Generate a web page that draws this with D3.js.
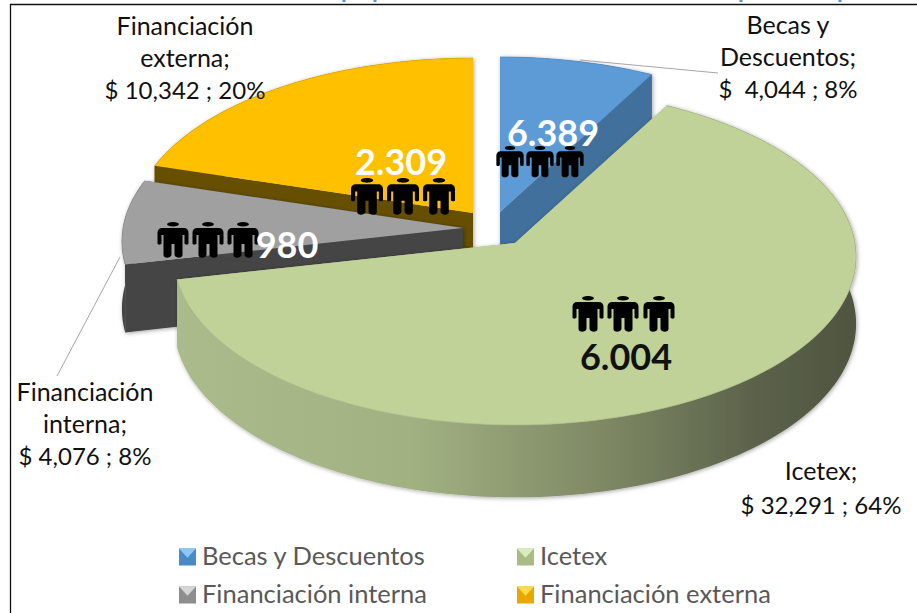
<!DOCTYPE html>
<html><head><meta charset="utf-8">
<script src="https://cdn.jsdelivr.net/npm/d3@7/dist/d3.min.js"></script>
<style>html,body{margin:0;padding:0;background:#fff}svg{display:block;font-family:Lato,Carlito,sans-serif}</style>
</head><body><svg id="c" width="917" height="613"></svg>
<script>
const categories = ["Becas y Descuentos","Icetex","Financiación interna","Financiación externa"];
const amounts = [4044,32291,4076,10342];
const people = ["6.389","6.004","980","2.309"];
const topColors = ["#5b9bd5","#c0d298","#a0a0a0","#ffc000"];
const wallColors = ["#41709b","url(#iceWall)","#444444","#665000"];
const rimColors = ["#4f8cc4","#a8b986","#8f8f8f","#e6ad00"];
const swatchBase = ["#4a8bc6","#a9bb85","#8d8d8d","#e8a800"];
const swatchTop = ["#8cc8f2","#dcebbf","#d6d6d6","#ffdc4a"];
const apexes = [[500,212],[515,243],[463,228],[473,213]];
const labelLines = [
  {lines:["Becas y","Descuentos;"],x:788,y:[34,66]},
  {lines:["Icetex;"],x:821,y:[480]},
  {lines:["Financiación","interna;"],x:85,y:[401,433]},
  {lines:["Financiación","externa;"],x:185,y:[35,67]}
];
const valueLineY = [98,514,465,99];
const valueLineX = [788,821,85,185];
const peopleX = [[510,540,570],[588,623,659],[173,208,243],[367,403,439]];
const peopleY = [146,296,222,178];
const peopleScale = [0.88,1,1,1.03];
const countPos = [[553,146],[626,370],[287,258],[401,175]];
const countCol = ["#fff","#111","#fff","#fff"];
const drawOrder = [3,0,2,1];
const titleMarks = [344,375,741,840];

const svg = d3.select("#c");
const defs = svg.append("defs");
const g = defs.append("linearGradient").attr("id","iceWall").attr("gradientUnits","userSpaceOnUse")
  .attr("x1",170).attr("x2",860).attr("y1",0).attr("y2",0);
[[0,"#abbb8c"],[0.35,"#a2b182"],[0.62,"#7f8a65"],[0.85,"#5b624a"],[1,"#4f5440"]]
  .forEach(s=>g.append("stop").attr("offset",s[0]).attr("stop-color",s[1]));
const f = defs.append("filter").attr("id","sh").attr("x","-10%").attr("y","-10%").attr("width","120%").attr("height","120%");
f.append("feDropShadow").attr("dx",1).attr("dy",1).attr("stdDeviation",2).attr("flood-color","#000").attr("flood-opacity",.35);

const rx=340, ry=168.5, p=0.08, depth=67;
const pie = d3.pie().sort(null).value(d=>d)(amounts);
function proj(a,th,r,z){
  const u=Math.sin(th), v=-Math.cos(th), s=1+p*v*r;
  return [a[0]+rx*u*r*s, a[1]+ry*v*r*s+z*depth*s];
}
const line = d3.line();
function arcPts(a,t0,t1,z){
  const n=Math.max(2,Math.ceil(Math.abs(t1-t0)*40));
  return d3.range(n+1).map(i=>proj(a,t0+(t1-t0)*i/n,1,z));
}
const pieG = svg.append("g");
drawOrder.forEach(i=>{
  const d=pie[i], a=apexes[i], t0=d.startAngle, t1=d.endAngle;
  const gr=pieG.append("g").attr("filter","url(#sh)");
  const wc=wallColors[i];
  [t0,t1].forEach(t=>{
    const A=proj(a,t,0,0),B=proj(a,t,1,0),C=proj(a,t,1,1),D=proj(a,t,0,1);
    gr.append("path").attr("d",line([A,B,C,D])+"Z").attr("fill",i===1?"#a4b385":wc);
  });
  const top=arcPts(a,t0,t1,0), bot=arcPts(a,t0,t1,1).reverse();
  gr.append("path").attr("d",line(top.concat(bot))+"Z").attr("fill",wc);
  gr.append("path").attr("d",line([proj(a,t0,0,0)].concat(top))+"Z").attr("fill",topColors[i]);
  gr.append("path").attr("d",line(top)).attr("fill","none").attr("stroke",rimColors[i]).attr("stroke-width",1).attr("opacity",.7);
});

// frame (top and left only) and the cut-off descenders of the title above it
svg.append("path").attr("d",line([[10.5,613],[10.5,4.5],[917,4.5]])).attr("fill","none").attr("stroke","#111").attr("stroke-width",1.3);
titleMarks.forEach(x=>svg.append("rect").attr("x",x-1.5).attr("y",0).attr("width",3).attr("height",2).attr("fill","#5b8fd0"));

const leaders=[[[580,60],[718,73]],[[120,257],[57,376]]];
leaders.forEach(l=>svg.append("path").attr("d",line(l)).attr("stroke","#a6a6a6").attr("stroke-width",1).attr("fill","none"));

const person="M17 0C20.600 0 23 1.100 23 2.300S20.600 4.600 17 4.600 11 3.500 11 2.300 13.400 0 17 0ZM6 6H28C30.500 6 32.500 8 32.500 10.500V21.500C32.500 23 29 23 28.500 21.500V13H26.500V33C26.500 36.500 19.500 36.500 18.500 33V22H15.500V33C14.500 36.500 7.500 36.500 7.500 33V13H5.500V21.500C5 23 1.500 23 1.500 21.500V10.500C1.500 8 3.500 6 6 6Z";
peopleX.forEach((xs,i)=>xs.forEach(x=>{
  const k=peopleScale[i];
  svg.append("path").attr("d",person).attr("fill","#000")
    .attr("transform",`translate(${x-17*k},${peopleY[i]}) scale(${k})`);
}));
people.forEach((t,i)=>svg.append("text").text(t).attr("x",countPos[i][0]).attr("y",countPos[i][1])
  .attr("text-anchor","middle").attr("font-weight",700).attr("font-size",36).attr("fill",countCol[i]));

const total=d3.sum(amounts), fmt=d3.format(",");
labelLines.forEach((L,i)=>{
  L.lines.forEach((t,j)=>svg.append("text").text(t).attr("x",L.x).attr("y",L.y[j])
    .attr("text-anchor","middle").attr("font-size",25).attr("fill","#111"));
  svg.append("text").text(`$${i===0?"  ":" "}${fmt(amounts[i])} ; ${Math.round(amounts[i]/total*100)}%`)
    .attr("x",valueLineX[i]).attr("y",valueLineY[i]).attr("xml:space","preserve")
    .attr("text-anchor","middle").attr("font-size",24).attr("fill","#111");
});

const legX=[179,517], legY=[557,595];
categories.forEach((c,i)=>{
  const x=legX[i%2], y=legY[Math.floor(i/2)], s=17;
  const lg=svg.append("g").attr("transform",`translate(${x},${y-s/2})`);
  lg.append("rect").attr("width",s).attr("height",s).attr("fill",swatchBase[i]);
  lg.append("path").attr("d",line([[0,0],[s,0],[s/2,s*.55]])+"Z").attr("fill",swatchTop[i]);
  svg.append("text").text(c).attr("x",x+23).attr("y",y+8).attr("font-size",25.5).attr("fill","#595959");
});
</script></body></html>
